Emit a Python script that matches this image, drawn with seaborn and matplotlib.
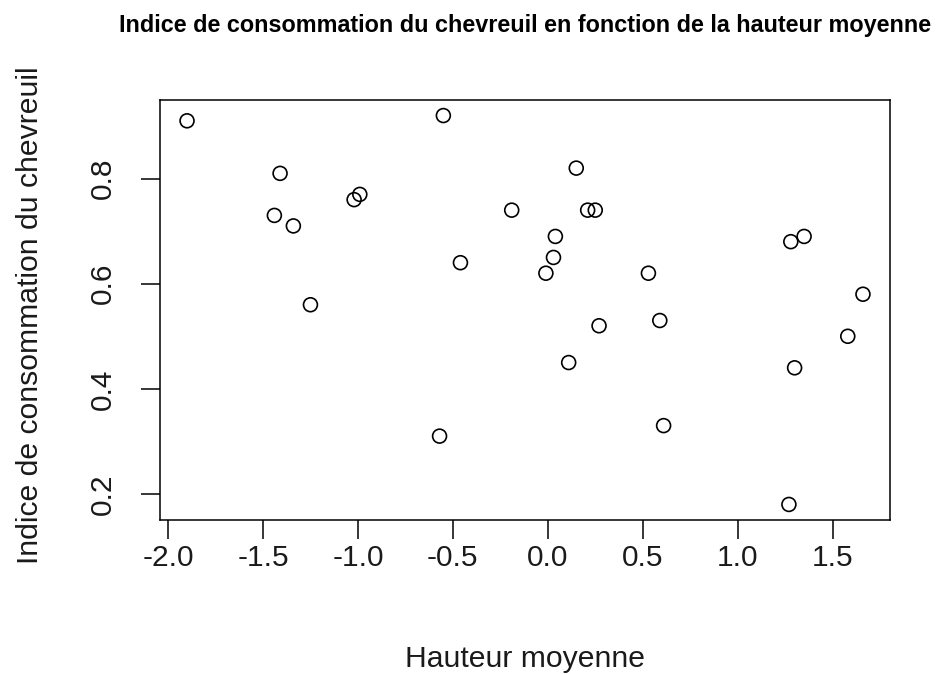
import matplotlib
matplotlib.use("Agg")
import matplotlib.pyplot as plt
import seaborn as sns
import pandas as pd

# Hauteur moyenne (standardised) and roe deer browsing index per plot
hauteur = [-1.90, -0.55, -1.41, -1.02, -0.99, -0.19, -1.44, -1.34, -0.46, -1.25,
           -0.57, 0.15, 0.21, 0.25, 0.04, 0.03, -0.01, 0.53, 1.28, 1.35,
           1.66, 0.27, 0.59, 0.11, 0.61, 1.58, 1.30, 1.27]
indice = [0.91, 0.92, 0.81, 0.76, 0.77, 0.74, 0.73, 0.71, 0.64, 0.56,
          0.31, 0.82, 0.74, 0.74, 0.69, 0.65, 0.62, 0.62, 0.68, 0.69,
          0.58, 0.52, 0.53, 0.45, 0.33, 0.50, 0.44, 0.18]

x_ticks = [-2.0, -1.5, -1.0, -0.5, 0.0, 0.5, 1.0, 1.5]
y_ticks = [0.2, 0.4, 0.6, 0.8]

titre = "Indice de consommation du chevreuil en fonction de la hauteur moyenne"
label_x = "Hauteur moyenne"
label_y = "Indice de consommation du chevreuil"

df = pd.DataFrame({"hauteur": hauteur, "indice": indice})

sns.set_style("white")
plt.rcParams["font.family"] = ["Liberation Sans", "DejaVu Sans"]
plt.rcParams["axes.unicode_minus"] = False

W, H = 943, 675
fig = plt.figure(figsize=(W / 100, H / 100), dpi=100)
ax = fig.add_axes([160 / W, 1 - 520 / H, 730 / W, 420 / H])

sns.scatterplot(data=df, x="hauteur", y="indice", ax=ax,
                marker="o", s=100, facecolor="none", edgecolor="black",
                linewidth=1.2, legend=False)

# R-style 4% padding around the data range
ax.margins(x=0.04, y=0.04)

for sp in ax.spines.values():
    sp.set_visible(True)
    sp.set_color("black")
    sp.set_linewidth(1.1)

ax.set_xticks(x_ticks)
ax.set_xticklabels([f"{v:.1f}" for v in x_ticks])
ax.set_yticks(y_ticks)
ax.set_yticklabels([f"{v:.1f}" for v in y_ticks], rotation=90, va="center")

ax.tick_params(axis="both", which="major", direction="out", length=13.7,
               width=1.1, color="black", labelsize=21.5, labelcolor="#1a1a1a",
               bottom=True, left=True)
ax.tick_params(axis="x", pad=3.5)
ax.tick_params(axis="y", pad=17)

ax.set_xlabel(label_x, fontsize=21.7, color="#1a1a1a")
ax.xaxis.set_label_coords(525 / W, 1 - 667 / H, transform=fig.transFigure)
ax.xaxis.label.set_va("baseline")

ax.set_ylabel(label_y, fontsize=21.7, color="#1a1a1a")
ax.yaxis.set_label_coords(38 / W, 1 - 315 / H, transform=fig.transFigure)
ax.yaxis.label.set_va("baseline")

fig.text(525 / W, 1 - 32 / H, titre, ha="center", va="baseline",
         fontsize=16.8, fontweight="bold", color="black")

fig.savefig("out.png", dpi=100, facecolor="white")
